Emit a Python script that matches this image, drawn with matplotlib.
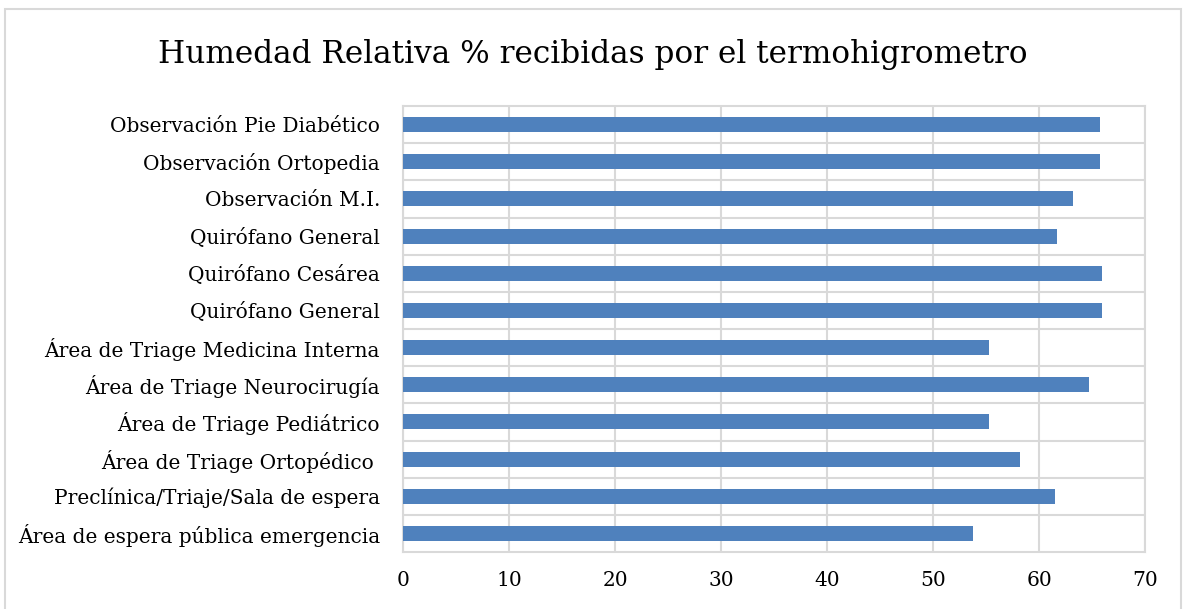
import matplotlib.pyplot as plt
from matplotlib.ticker import FixedLocator
from matplotlib.patches import Rectangle

# categories listed from bottom to top, as drawn
areas = [
    "Área de espera pública emergencia",
    "Preclínica/Triaje/Sala de espera",
    "Área de Triage Ortopédico ",
    "Área de Triage Pediátrico",
    "Área de Triage Neurocirugía",
    "Área de Triage Medicina Interna",
    "Quirófano General",
    "Quirófano Cesárea",
    "Quirófano General",
    "Observación M.I.",
    "Observación Ortopedia",
    "Observación Pie Diabético",
]
humedad = [53.7, 61.5, 58.2, 55.3, 64.7, 55.3, 65.9, 65.9, 61.7, 63.2, 65.7, 65.7]
x_ticks = [0, 10, 20, 30, 40, 50, 60, 70]

plt.rcParams['font.family'] = ['DejaVu Serif']

fig = plt.figure(figsize=(11.86, 6.09), dpi=100)
ax = fig.add_axes([403 / 1186, 1 - 552 / 609, (1145.4 - 403) / 1186, (552 - 106) / 609])

pos = list(range(len(areas)))
ax.barh(pos, humedad, height=0.4, color='#4F81BD', zorder=3)

ax.set_xlim(0, 70)
ax.set_ylim(-0.5, len(areas) - 0.5)
ax.set_xticks(x_ticks)
ax.set_yticks(pos)
ax.set_yticklabels(areas)
ax.yaxis.set_minor_locator(FixedLocator([p + 0.5 for p in pos[:-1]]))

ax.grid(axis='x', color='#D9D9D9', linewidth=1.5, zorder=0)
ax.grid(axis='y', which='minor', color='#D9D9D9', linewidth=1.5, zorder=0)
ax.tick_params(axis='both', which='both', length=0, labelsize=14.5, colors='black')
ax.tick_params(axis='y', pad=16.5)
ax.tick_params(axis='x', pad=14)
for s in ax.spines.values():
    s.set_color('#D9D9D9')
    s.set_linewidth(1.5)

fig.text(0.5, 1 - 55 / 609, "Humedad Relativa % recibidas por el termohigrometro",
         ha='center', va='center', fontsize=22.4)

# outer chart border
fig.patches.append(Rectangle((5 / 1186, -0.01), 1176 / 1186, 1 - 9 / 609 + 0.01,
                             transform=fig.transFigure, fill=False,
                             edgecolor='#D9D9D9', linewidth=1.5))

fig.savefig('out.png', dpi=100)
